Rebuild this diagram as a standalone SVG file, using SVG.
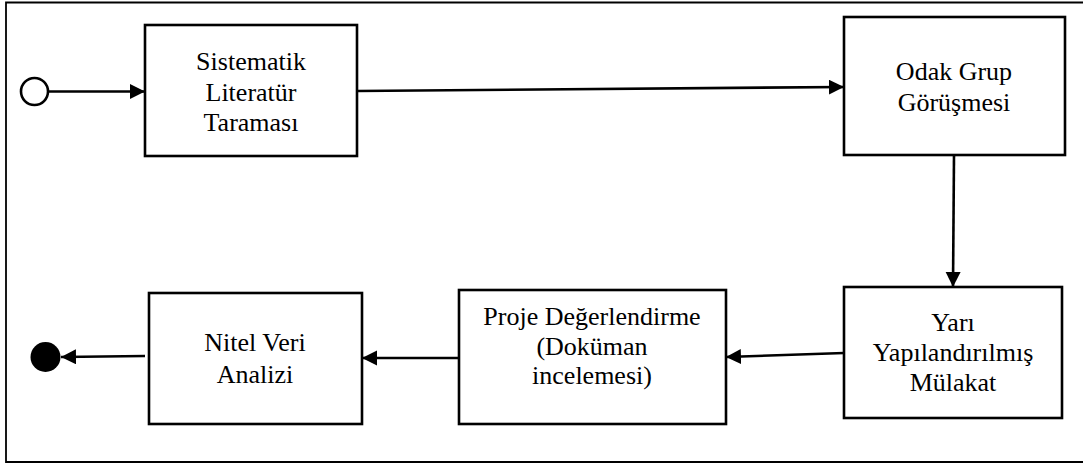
<svg xmlns="http://www.w3.org/2000/svg" width="1083" height="464" viewBox="0 0 1083 464">
  <style>
    .box { fill: #fff; stroke: #000; stroke-width: 2.6; }
    .conn { stroke: #000; stroke-width: 2.6; fill: none; }
  </style>
  <defs>
    <marker id="arr" markerUnits="userSpaceOnUse" markerWidth="16" markerHeight="16" refX="15" refY="7.5" orient="auto">
      <path d="M0,0 L15,7.5 L0,15 Z" fill="#000"/>
    </marker>
  </defs>
  <rect width="1083" height="464" fill="#fff"/>
  <path d="M1090,2.5 H6 V462 H1090" fill="none" stroke="#000" stroke-width="1.8"/>

  <g id="start">
    <circle cx="34.5" cy="91.5" r="13.5" fill="#fff" stroke="#000" stroke-width="2.6"/>
  </g>
  <g id="end">
    <circle cx="45.5" cy="357" r="15" fill="#000"/>
  </g>

  <g font-family="'Liberation Serif', 'Times New Roman', 'DejaVu Serif', serif" font-size="26" text-anchor="middle" fill="#000">
  <g id="n1">
    <rect class="box" x="145" y="25" width="212" height="131"/>
    <text x="251" y="70">Sistematik</text>
    <text x="251" y="101">Literatür</text>
    <text x="251" y="131">Taraması</text>
  </g>
  <g id="n2">
    <rect class="box" x="844" y="17" width="221" height="138"/>
    <text x="954" y="80">Odak Grup</text>
    <text x="954" y="111">Görüşmesi</text>
  </g>
  <g id="n3">
    <rect class="box" x="844" y="287" width="218" height="131"/>
    <text x="953" y="331">Yarı</text>
    <text x="953" y="361">Yapılandırılmış</text>
    <text x="953" y="391">Mülakat</text>
  </g>
  <g id="n4">
    <rect class="box" x="459" y="290" width="267" height="134"/>
    <text x="592" y="325">Proje Değerlendirme</text>
    <text x="592" y="355">(Doküman</text>
    <text x="592" y="384">incelemesi)</text>
  </g>
  <g id="n5">
    <rect class="box" x="149" y="293" width="213" height="131"/>
    <text x="255" y="351">Nitel Veri</text>
    <text x="255" y="383">Analizi</text>
  </g>
  </g>

  <g id="connectors">
    <line class="conn" x1="48" y1="91.5" x2="145" y2="91.5" marker-end="url(#arr)"/>
    <line class="conn" x1="357" y1="91" x2="844" y2="87" marker-end="url(#arr)"/>
    <line class="conn" x1="954" y1="155" x2="953" y2="287" marker-end="url(#arr)"/>
    <line class="conn" x1="844" y1="353" x2="726" y2="357" marker-end="url(#arr)"/>
    <line class="conn" x1="459" y1="358" x2="362" y2="358" marker-end="url(#arr)"/>
    <line class="conn" x1="145" y1="356" x2="61" y2="357" marker-end="url(#arr)"/>
  </g>
</svg>
